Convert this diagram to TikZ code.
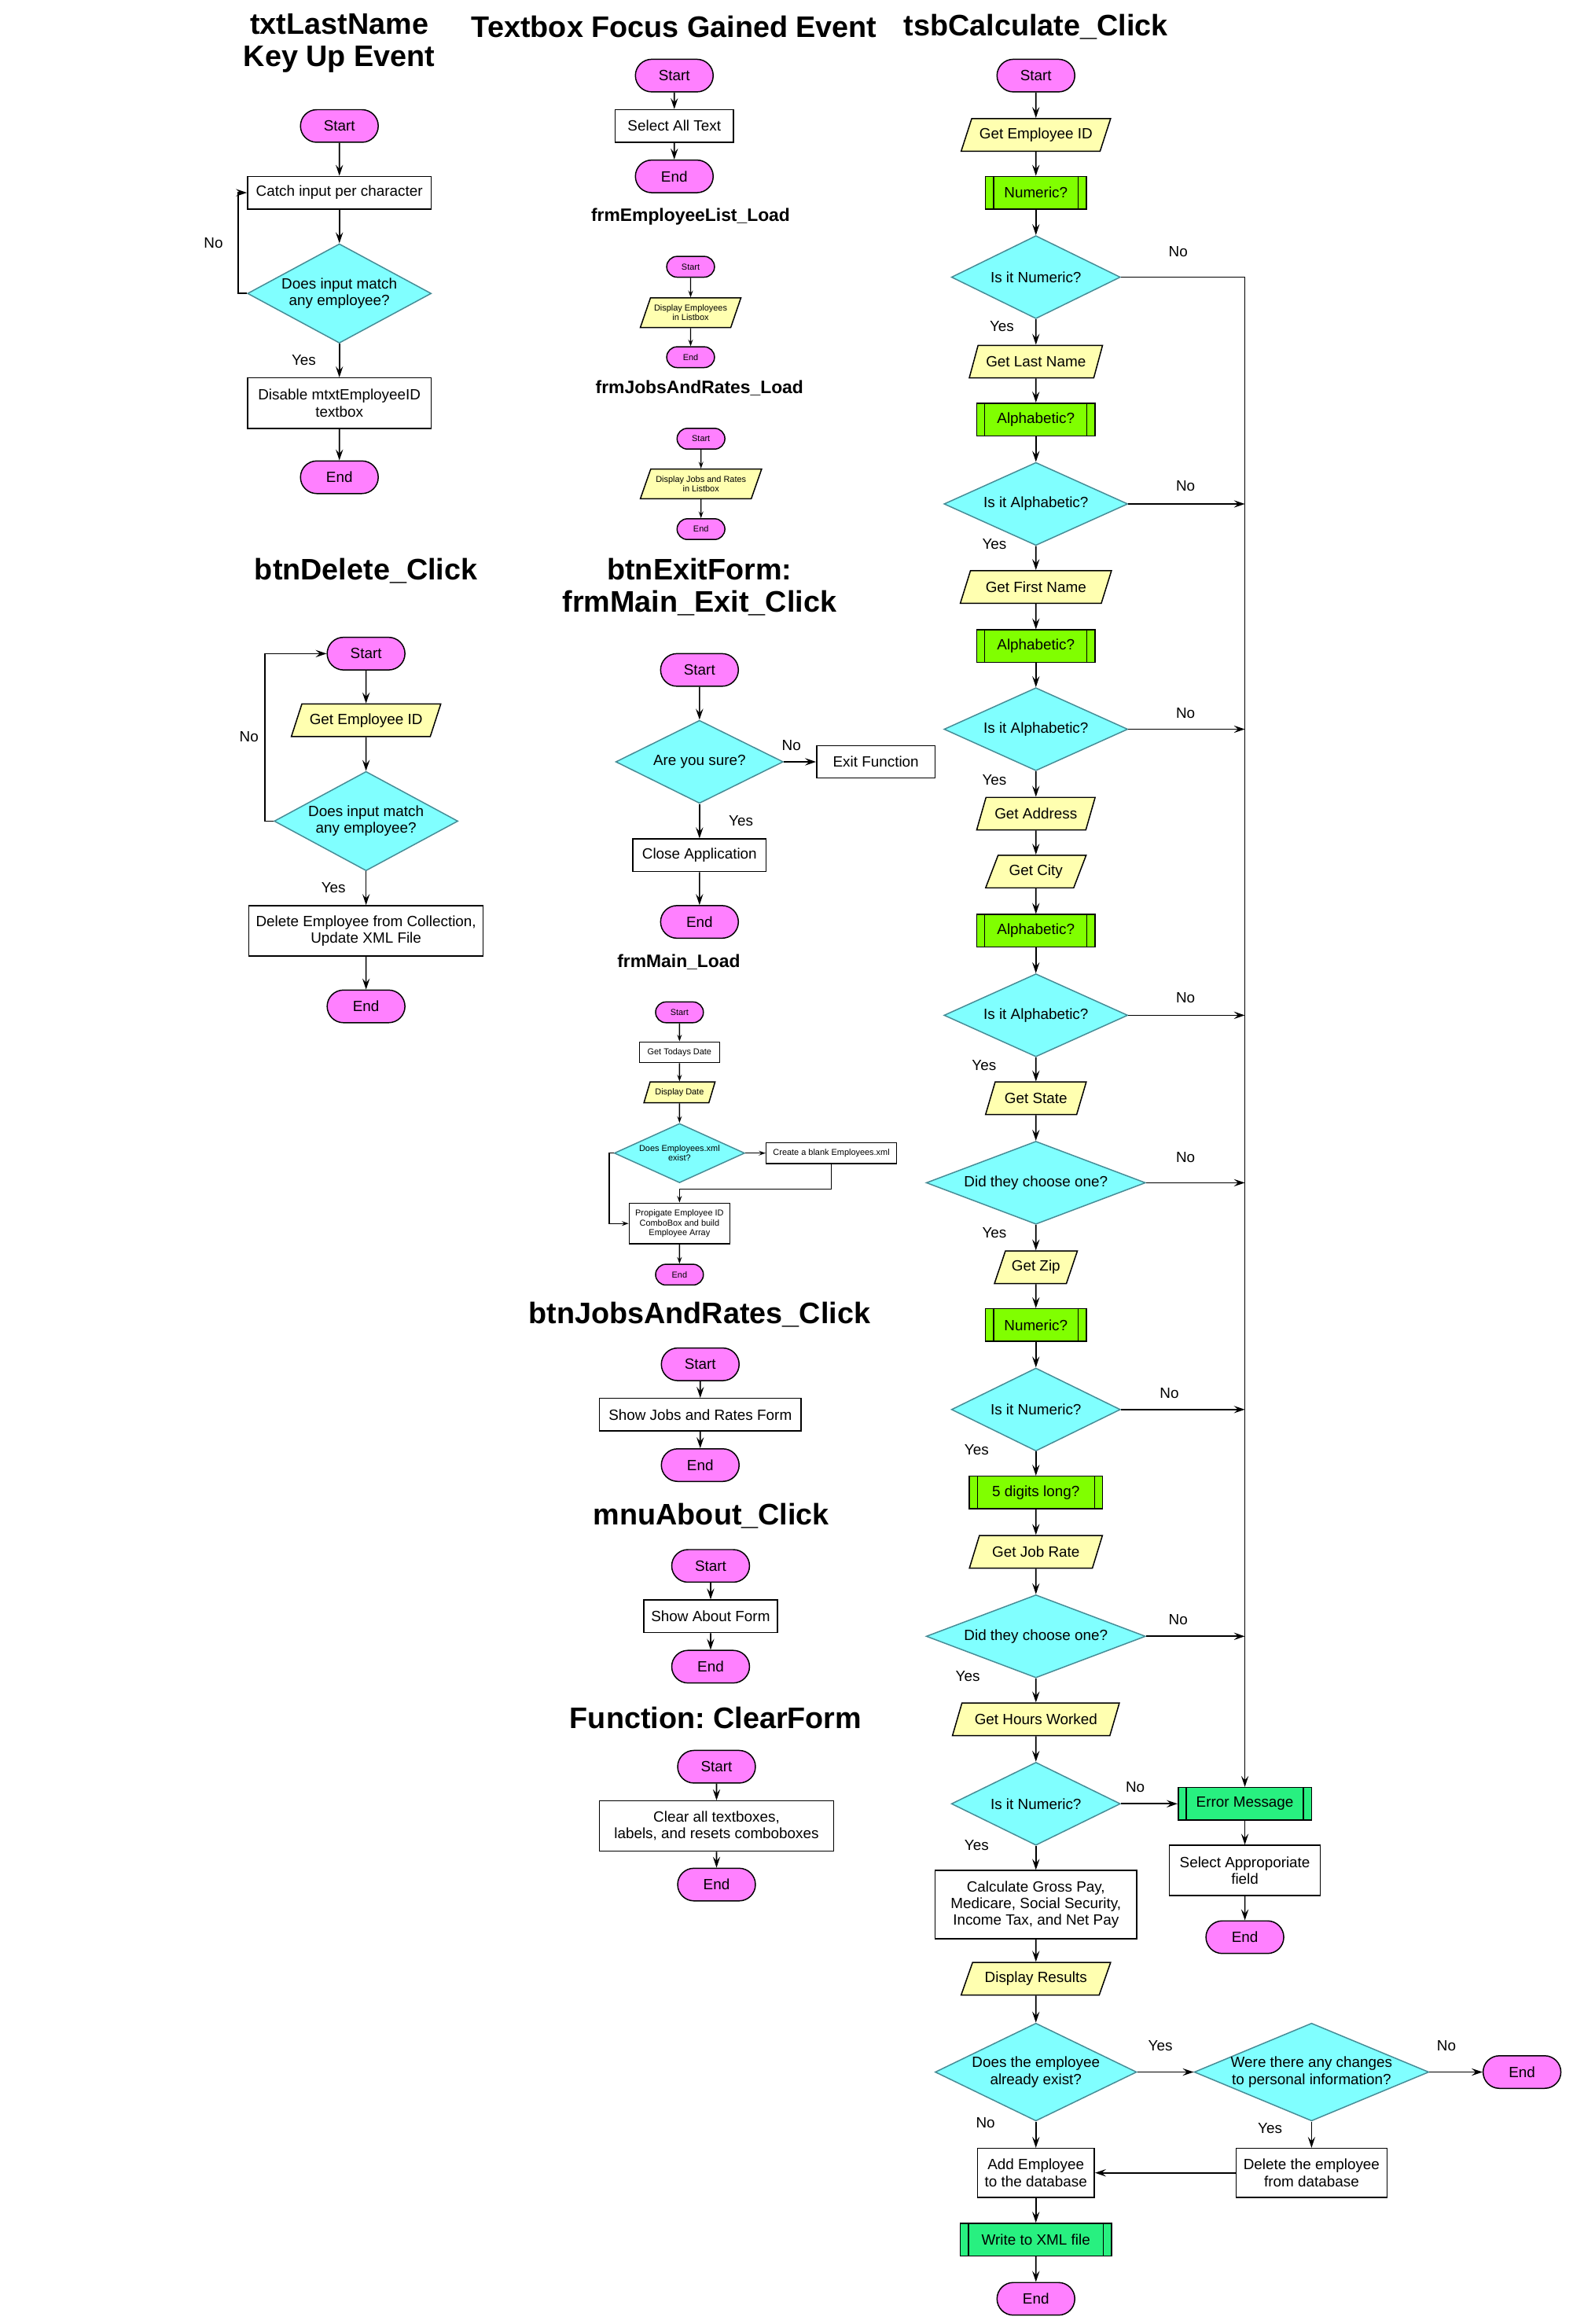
\documentclass[tikz,border=0pt]{standalone}
\usepackage{fontspec}
\setmainfont{Liberation Sans}
\usetikzlibrary{arrows.meta, shapes.geometric, shapes.misc}

\definecolor{termpink}{RGB}{255,128,255}
\definecolor{deccyan}{RGB}{128,255,255}
\definecolor{decedge}{RGB}{70,140,150}
\definecolor{ioyellow}{RGB}{255,255,176}
\definecolor{subgreen}{RGB}{128,255,0}
\definecolor{errgreen}{RGB}{40,240,128}

\newcommand{\flowfont}{\fontsize{5.7}{6.4}\selectfont}
\newcommand{\miniflowfont}{\fontsize{3.3}{3.8}\selectfont}
\newcommand{\headfont}{\fontsize{11.4}{12.5}\selectfont\bfseries}
\newcommand{\subheadfont}{\fontsize{6.9}{8}\selectfont\bfseries}
\frenchspacing

\begin{document}
\begin{tikzpicture}[
    x=0.2mm, y=-0.2mm,
    bw/.style={minimum width=#1*0.2mm},
    bh/.style={minimum height=#1*0.2mm},
    base/.style={font=\flowfont, align=center, inner sep=1pt, line width=0.45pt},
    term/.style={base, draw, rounded rectangle, fill=termpink, bw=56, bh=22},
    proc/.style={base, draw, rectangle, fill=white, bh=22},
    io/.style={base, draw, trapezium, trapezium left angle=63, trapezium right angle=117, trapezium stretches=true, fill=ioyellow, bh=22},
    decide/.style={base, draw=decedge, diamond, aspect=2, fill=deccyan, inner sep=0pt},
    pre/.style={base, draw, rectangle, fill=subgreen, bh=22, path picture={
        \draw[line width=0.4pt] ([xshift=1.1mm]path picture bounding box.north west) -- ([xshift=1.1mm]path picture bounding box.south west)
            ([xshift=-1.1mm]path picture bounding box.north east) -- ([xshift=-1.1mm]path picture bounding box.south east);}},
    mini/.style={font=\miniflowfont, inner sep=0.5pt, bh=14},
    title/.style={font=\headfont, align=center},
    subtitle/.style={font=\subheadfont},
    lbl/.style={font=\flowfont},
    arrow/.style={-{Stealth[length=4.2pt, width=2.8pt, inset=1.6pt]}, line width=0.5pt},
    miniarrow/.style={-{Stealth[length=2.6pt, width=1.8pt, inset=1pt]}, line width=0.4pt},
]
\path[fill=white] (0,0) rectangle (1061,1568);

\node[title] (tLast) at (229,29) {txtLastName\\Key Up Event};
\node[title] (tFocus) at (455,18) {Textbox Focus Gained Event};
\node[title] (tCalc) at (699,18) {tsbCalculate\_Click};
\node[subtitle] (tEmpList) at (466,146) {frmEmployeeList\_Load};
\node[subtitle] (tJobsLoad) at (472,262) {frmJobsAndRates\_Load};
\node[title] (tDelete) at (247,385) {btnDelete\_Click};
\node[title] (tExit) at (472,396) {btnExitForm:\\frmMain\_Exit\_Click};
\node[subtitle] (tMainLoad) at (458,649) {frmMain\_Load};
\node[title] (tJobs) at (472,887) {btnJobsAndRates\_Click};
\node[title] (tAbout) at (480,1023) {mnuAbout\_Click};
\node[title] (tClear) at (483,1159) {Function: ClearForm};

\node[term] (startA) at (229,85) {Start};
\node[proc, bw=124] (catchA) at (229,130) {Catch input per character};
\node[decide, bw=124, bh=67] (matchA) at (229,198) {Does input match\\any employee?};
\node[proc, bw=124, bh=34] (disableA) at (229,272) {Disable mtxtEmployeeID\\textbox};
\node[term] (endA) at (229,322) {End};
\node[lbl] (noA) at (144,164) {No};
\node[lbl] (yesA) at (205,243) {Yes};

\draw[arrow] (startA) -- (catchA);
\draw[arrow] (catchA) -- (matchA);
\draw[arrow] (matchA) -- (disableA);
\draw[arrow] (disableA) -- (endA);
\draw[arrow] (matchA.west) -- ++(-6,0) |- (catchA.west);

\node[term] (startB) at (455,51) {Start};
\node[proc, bw=80] (selectB) at (455,85) {Select All Text};
\node[term] (endB) at (455,119) {End};

\draw[arrow] (startB) -- (selectB);
\draw[arrow] (selectB) -- (endB);

\node[term, mini, bw=34] (startC) at (466,180) {Start};
\node[io, mini, bw=68, bh=20] (listC) at (466,211) {Display Employees\\in Listbox};
\node[term, mini, bw=34] (endC) at (466,241) {End};

\draw[miniarrow] (startC) -- (listC);
\draw[miniarrow] (listC) -- (endC);

\node[term, mini, bw=34] (startD) at (473,296) {Start};
\node[io, mini, bw=82, bh=20] (listD) at (473,326.5) {Display Jobs and Rates\\in Listbox};
\node[term, mini, bw=34] (endD) at (473,357) {End};

\draw[miniarrow] (startD) -- (listD);
\draw[miniarrow] (listD) -- (endD);

\node[term] (startE) at (247,441) {Start};
\node[io, bw=101] (getIdE) at (247,486) {Get Employee ID};
\node[decide, bw=124, bh=67] (matchE) at (247,554) {Does input match\\any employee?};
\node[proc, bw=158, bh=34] (deleteE) at (247,628) {Delete Employee from Collection,\\Update XML File};
\node[term] (endE) at (247,679) {End};
\node[lbl] (noE) at (168,497) {No};
\node[lbl] (yesE) at (225,599) {Yes};

\draw[arrow] (startE) -- (getIdE);
\draw[arrow] (getIdE) -- (matchE);
\draw[arrow] (matchE) -- (deleteE);
\draw[arrow] (deleteE) -- (endE);
\draw[arrow] (matchE.west) -- ++(-6,0) |- (startE.west);

\node[term] (startF) at (472,452) {Start};
\node[decide, bw=113, bh=56] (sureF) at (472,514) {Are you sure?};
\node[proc, bw=80] (exitF) at (591,514) {Exit Function};
\node[proc, bw=90] (closeF) at (472,577) {Close Application};
\node[term] (endF) at (472,622) {End};
\node[lbl] (noF) at (534,503) {No};
\node[lbl] (yesF) at (500,554) {Yes};

\draw[arrow] (startF) -- (sureF);
\draw[arrow] (sureF) -- (exitF);
\draw[arrow] (sureF) -- (closeF);
\draw[arrow] (closeF) -- (endF);

\node[term, mini, bw=34] (startG) at (458.5,683) {Start};
\node[proc, mini, bw=54] (dateG) at (458.5,710) {Get Todays Date};
\node[io, mini, bw=48] (showDateG) at (458.5,737) {Display Date};
\node[decide, mini, bw=88, bh=40, aspect=2.2] (xmlG) at (458.5,778) {Does Employees.xml\\exist?};
\node[proc, mini, bw=88] (createG) at (561,778) {Create a blank Employees.xml};
\node[proc, mini, bw=68, bh=27.5] (comboG) at (458.5,825.5) {Propigate Employee ID\\ComboBox and build\\Employee Array};
\node[term, mini, bw=34] (endG) at (458.5,860) {End};

\draw[miniarrow] (startG) -- (dateG);
\draw[miniarrow] (dateG) -- (showDateG);
\draw[miniarrow] (showDateG) -- (xmlG);
\draw[miniarrow] (xmlG) -- (createG);
\draw[miniarrow] (createG.south) -- ++(0,17) -| (comboG.north);
\draw[miniarrow] (xmlG.west) -- ++(-3,0) |- (comboG.west);
\draw[miniarrow] (comboG) -- (endG);

\node[term] (startH) at (472.5,920.5) {Start};
\node[proc, bw=136] (showH) at (472.5,954.5) {Show Jobs and Rates Form};
\node[term] (endH) at (472.5,988.5) {End};

\draw[arrow] (startH) -- (showH);
\draw[arrow] (showH) -- (endH);

\node[term] (startI) at (479.5,1056.5) {Start};
\node[proc, bw=90] (showI) at (479.5,1090.5) {Show About Form};
\node[term] (endI) at (479.5,1124.5) {End};

\draw[arrow] (startI) -- (showI);
\draw[arrow] (showI) -- (endI);

\node[term] (startJ) at (483.5,1192) {Start};
\node[proc, bw=158, bh=34] (clearJ) at (483.5,1232) {Clear all textboxes,\\labels, and resets comboboxes};
\node[term] (endJ) at (483.5,1271.5) {End};

\draw[arrow] (startJ) -- (clearJ);
\draw[arrow] (clearJ) -- (endJ);

\node[term] (startK) at (699,51) {Start};
\node[io, bw=101] (getId) at (699,91) {Get Employee ID};
\node[pre, bw=68] (numA) at (699,130) {Numeric?};
\node[decide, bw=114, bh=56] (isNumA) at (699,187) {Is it Numeric?};
\node[io, bw=90] (getLast) at (699,244) {Get Last Name};
\node[pre, bw=80] (alphaA) at (699,283) {Alphabetic?};
\node[decide, bw=124, bh=56] (isAlphaA) at (699,340) {Is it Alphabetic?};
\node[io, bw=102] (getFirst) at (699,396) {Get First Name};
\node[pre, bw=80] (alphaB) at (699,436) {Alphabetic?};
\node[decide, bw=124, bh=56] (isAlphaB) at (699,492) {Is it Alphabetic?};
\node[io, bw=80] (getAddr) at (699,549) {Get Address};
\node[io, bw=68] (getCity) at (699,588) {Get City};
\node[pre, bw=80] (alphaC) at (699,628) {Alphabetic?};
\node[decide, bw=124, bh=56] (isAlphaC) at (699,685) {Is it Alphabetic?};
\node[io, bw=68] (getState) at (699,741) {Get State};
\node[decide, bw=148, bh=56, aspect=2.6] (choseState) at (699,798) {Did they choose one?};
\node[io, bw=56] (getZip) at (699,855) {Get Zip};
\node[pre, bw=68] (numB) at (699,894) {Numeric?};
\node[decide, bw=114, bh=56] (isNumB) at (699,951) {Is it Numeric?};
\node[pre, bw=90] (fiveDigits) at (699,1007) {5 digits long?};
\node[io, bw=90] (getJob) at (699,1047) {Get Job Rate};
\node[decide, bw=148, bh=56, aspect=2.6] (choseJob) at (699,1104) {Did they choose one?};
\node[io, bw=113] (getHours) at (699,1160) {Get Hours Worked};
\node[decide, bw=114, bh=56] (isNumC) at (699,1217) {Is it Numeric?};
\node[proc, bw=136, bh=46] (calcPay) at (699,1285) {Calculate Gross Pay,\\Medicare, Social Security,\\Income Tax, and Net Pay};
\node[io, bw=101] (showResults) at (699,1335) {Display Results};
\node[decide, bw=136, bh=66] (empExists) at (699,1398) {Does the employee\\already exist?};
\node[decide, bw=158, bh=66, aspect=2.4] (anyChanges) at (885,1398) {Were there any changes\\to personal information?};
\node[term] (endChanges) at (1027,1398) {End};
\node[proc, bw=79, bh=33] (addEmp) at (699,1466) {Add Employee\\to the database};
\node[proc, bw=102, bh=33] (delEmp) at (885,1466) {Delete the employee\\from database};
\node[pre, bw=102, fill=errgreen] (writeXml) at (699,1511) {Write to XML file};
\node[term] (endK) at (699,1551) {End};

\node[pre, bw=90, fill=errgreen] (errMsg) at (840,1217) {Error Message};
\node[proc, bw=102, bh=34] (selField) at (840,1262) {Select Approporiate\\field};
\node[term] (endErr) at (840,1307) {End};

\node[lbl] (noK1) at (795,170) {No};
\node[lbl] (yesK1) at (676,220) {Yes};
\node[lbl] (noK2) at (800,328) {No};
\node[lbl] (yesK2) at (671,367) {Yes};
\node[lbl] (noK3) at (800,481) {No};
\node[lbl] (yesK3) at (671,526) {Yes};
\node[lbl] (noK4) at (800,673) {No};
\node[lbl] (yesK4) at (664,719) {Yes};
\node[lbl] (noK5) at (800,781) {No};
\node[lbl] (yesK5) at (671,832) {Yes};
\node[lbl] (noK6) at (789,940) {No};
\node[lbl] (yesK6) at (659,978) {Yes};
\node[lbl] (noK7) at (795,1093) {No};
\node[lbl] (yesK7) at (653,1131) {Yes};
\node[lbl] (noK8) at (766,1206) {No};
\node[lbl] (yesK8) at (659,1245) {Yes};
\node[lbl] (yesK9) at (783,1380) {Yes};
\node[lbl] (noK9) at (665,1432) {No};
\node[lbl] (noK10) at (976,1380) {No};
\node[lbl] (yesK10) at (857,1436) {Yes};

\draw[arrow] (startK) -- (getId);
\draw[arrow] (getId) -- (numA);
\draw[arrow] (numA) -- (isNumA);
\draw[arrow] (isNumA) -- (getLast);
\draw[arrow] (getLast) -- (alphaA);
\draw[arrow] (alphaA) -- (isAlphaA);
\draw[arrow] (isAlphaA) -- (getFirst);
\draw[arrow] (getFirst) -- (alphaB);
\draw[arrow] (alphaB) -- (isAlphaB);
\draw[arrow] (isAlphaB) -- (getAddr);
\draw[arrow] (getAddr) -- (getCity);
\draw[arrow] (getCity) -- (alphaC);
\draw[arrow] (alphaC) -- (isAlphaC);
\draw[arrow] (isAlphaC) -- (getState);
\draw[arrow] (getState) -- (choseState);
\draw[arrow] (choseState) -- (getZip);
\draw[arrow] (getZip) -- (numB);
\draw[arrow] (numB) -- (isNumB);
\draw[arrow] (isNumB) -- (fiveDigits);
\draw[arrow] (fiveDigits) -- (getJob);
\draw[arrow] (getJob) -- (choseJob);
\draw[arrow] (choseJob) -- (getHours);
\draw[arrow] (getHours) -- (isNumC);
\draw[arrow] (isNumC) -- (calcPay);
\draw[arrow] (calcPay) -- (showResults);
\draw[arrow] (showResults) -- (empExists);
\draw[arrow] (empExists) -- (anyChanges);
\draw[arrow] (anyChanges) -- (endChanges);
\draw[arrow] (empExists) -- (addEmp);
\draw[arrow] (anyChanges) -- (delEmp);
\draw[arrow] (delEmp) -- (addEmp);
\draw[arrow] (addEmp) -- (writeXml);
\draw[arrow] (writeXml) -- (endK);

\draw[arrow] (isNumA.east) -| (errMsg.north);
\draw[arrow] (isAlphaA.east) -- (isAlphaA.east -| errMsg.north);
\draw[arrow] (isAlphaB.east) -- (isAlphaB.east -| errMsg.north);
\draw[arrow] (isAlphaC.east) -- (isAlphaC.east -| errMsg.north);
\draw[arrow] (choseState.east) -- (choseState.east -| errMsg.north);
\draw[arrow] (isNumB.east) -- (isNumB.east -| errMsg.north);
\draw[arrow] (choseJob.east) -- (choseJob.east -| errMsg.north);
\draw[arrow] (isNumC) -- (errMsg);
\draw[arrow] (errMsg) -- (selField);
\draw[arrow] (selField) -- (endErr);

\end{tikzpicture}
\end{document}
